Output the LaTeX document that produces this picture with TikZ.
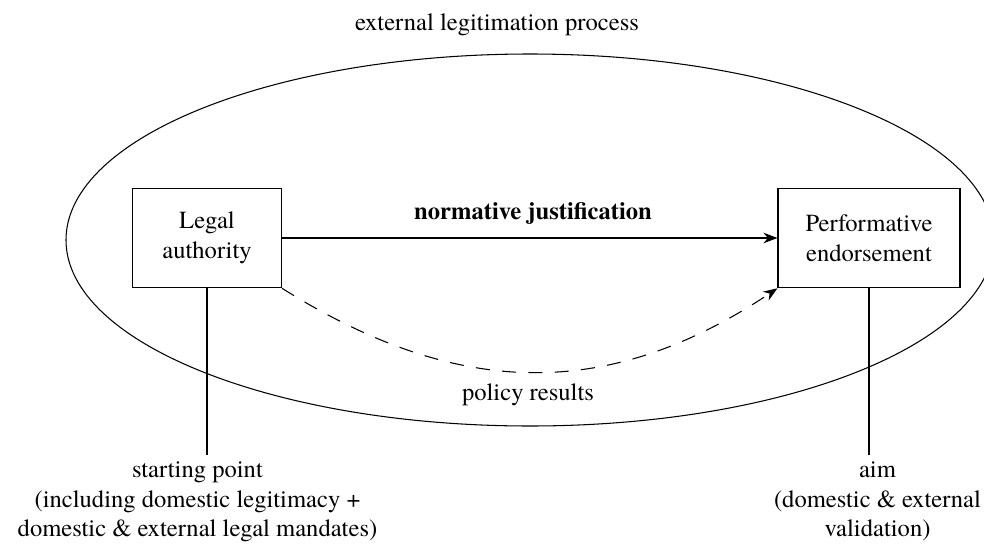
\documentclass[tikz,border=0pt]{standalone}
\usepackage{fontspec}
\setmainfont{texgyretermes}[Extension=.otf, UprightFont=*-regular, BoldFont=*-bold]
\usetikzlibrary{arrows.meta}
\newcommand{\mylabelfont}{\fontsize{14}{17}\selectfont}

\begin{document}
\begin{tikzpicture}[
  line width=.6pt,
  every node/.style={font=\mylabelfont, align=center},
  stagebox/.style={draw, inner sep=0pt, minimum height=1.99cm},
  tiparrow/.style={-{Stealth[length=8pt,width=6pt]}}
]
\useasboundingbox (0,0) rectangle (19.68,11.1);
\clip (0,0) rectangle (19.68,11.1);
% outer process
\draw (10.6,6.3) ellipse (9.28 and 3.72);
\node (process) at (9.94,10.6) {external legitimation process};
% the two stages
\node[stagebox, minimum width=2.98cm] (legal) at (4.14,6.34) {Legal\\authority};
\node[stagebox, minimum width=3.64cm] (perf) at (17.38,6.34) {Performative\\endorsement};
\node[font=\mylabelfont\bfseries] (norm) at (10.66,6.84) {normative justification};
\node (results) at (10.56,3.2) {policy results};
\draw[tiparrow] (legal.east) -- (perf.west);
\draw[tiparrow, dash pattern=on 8pt off 7pt] (legal.south east) .. controls (9.2,3.1) and (12.2,3.1) .. (perf.south west);
% annotations below
\node[anchor=north] (start) at (3.95,2.0) {starting point\\(including domestic legitimacy +\\domestic \& external legal mandates)};
\node[anchor=north] (aim) at (17.55,2.0) {aim\\(domestic \& external\\validation)};
\draw (legal.south) -- (legal.south |- start.north);
\draw (perf.south) -- (perf.south |- aim.north);
\end{tikzpicture}
\end{document}
